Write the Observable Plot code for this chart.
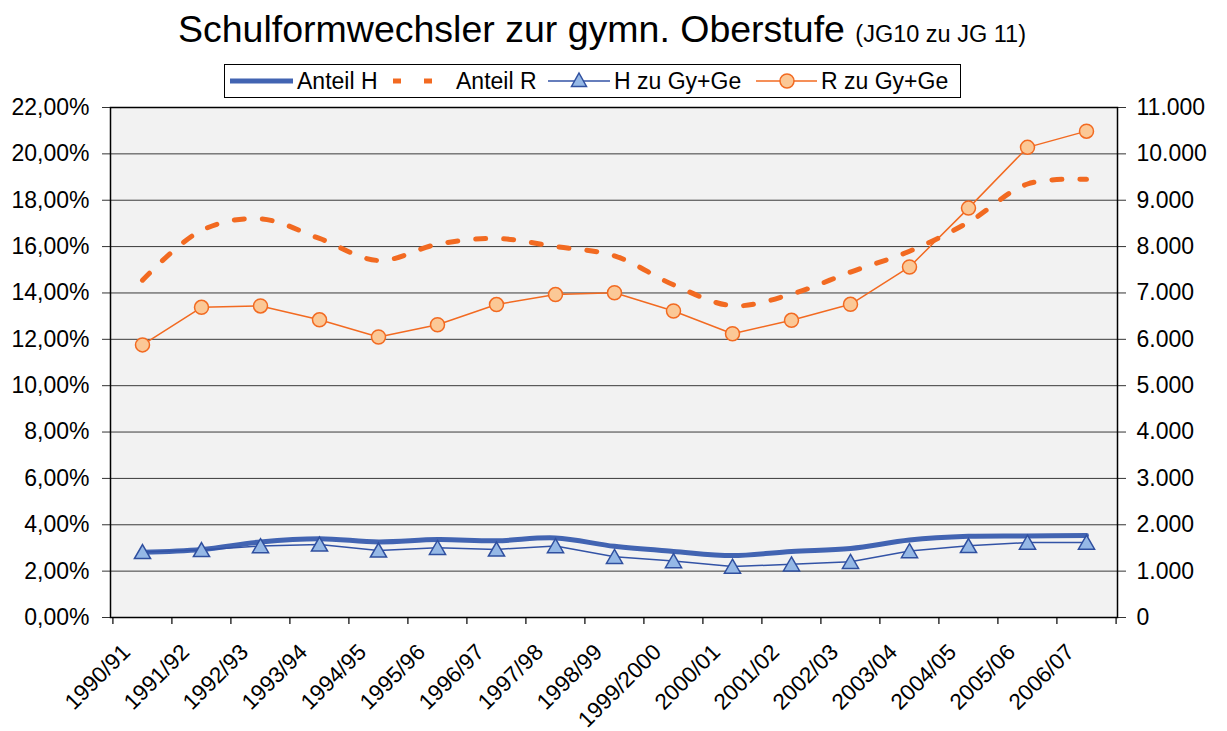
<!DOCTYPE html>
<html>
<head>
<meta charset="utf-8">
<script src="https://cdn.jsdelivr.net/npm/d3@7"></script>
<script src="https://cdn.jsdelivr.net/npm/@observablehq/plot@0.6"></script>
<style>
  html, body { margin: 0; padding: 0; background: #fff; }
  #wrap { position: relative; width: 1227px; height: 731px; font-family: "Liberation Sans", Arial, sans-serif; }
  #head { position: absolute; left: 0; top: 0; }
  #chart { position: absolute; left: 0; top: 100px; }
</style>
</head>
<body>
<div id="wrap">
  <svg id="head" width="1227" height="100" font-family="Liberation Sans, Arial, sans-serif">
    <text x="178" y="42" font-size="37.5" fill="#000">Schulformwechsler zur gymn. Oberstufe <tspan font-size="23.5">(JG10 zu JG 11)</tspan></text>
    <rect x="224.5" y="64.5" width="736" height="33" fill="#fff" stroke="#000" stroke-width="1"></rect>
    <line x1="230" x2="293" y1="81" y2="81" stroke="#4264B2" stroke-width="5"></line>
    <text x="297" y="89" font-size="23">Anteil H</text>
    <line x1="393" x2="401" y1="81" y2="81" stroke="#F26A21" stroke-width="5"></line>
    <line x1="424" x2="432" y1="81" y2="81" stroke="#F26A21" stroke-width="5"></line>
    <text x="456" y="89" font-size="23">Anteil R</text>
    <line x1="548" x2="610" y1="81" y2="81" stroke="#3353A6" stroke-width="1.5"></line>
    <path d="M579,73 L586.5,86.5 L571.5,86.5 Z" fill="#95B8E6" stroke="#2F4F9F" stroke-width="1.5"></path>
    <text x="614" y="89" font-size="23">H zu Gy+Ge</text>
    <line x1="756" x2="817" y1="81" y2="81" stroke="#F26A21" stroke-width="1.5"></line>
    <circle cx="787" cy="81" r="7" fill="#FBC896" stroke="#F26A21" stroke-width="1.5"></circle>
    <text x="821" y="89" font-size="23">R zu Gy+Ge</text>
  </svg>
  <div id="chart"></div>
</div>
<script>
// ---- data ----
const categories = ["1990/91","1991/92","1992/93","1993/94","1994/95","1995/96","1996/97","1997/98","1998/99","1999/2000","2000/01","2001/02","2002/03","2003/04","2004/05","2005/06","2006/07"];
// left axis, percent
const anteilH = [2.81, 2.93, 3.26, 3.40, 3.26, 3.36, 3.31, 3.43, 3.07, 2.85, 2.67, 2.85, 2.98, 3.34, 3.50, 3.52, 3.54];
const anteilR = [14.55, 16.7, 17.2, 16.35, 15.4, 16.1, 16.35, 16.0, 15.6, 14.35, 13.45, 13.95, 14.9, 15.8, 17.05, 18.7, 18.9];
// right axis, counts
const hZuGyGe = [1415, 1458, 1542, 1577, 1447, 1505, 1469, 1542, 1311, 1218, 1099, 1149, 1203, 1434, 1545, 1618, 1618];
const rZuGyGe = [5880, 6690, 6720, 6420, 6050, 6315, 6750, 6965, 7005, 6610, 6120, 6410, 6755, 7560, 8830, 10140, 10490];
const leftTicks = [0, 2, 4, 6, 8, 10, 12, 14, 16, 18, 20, 22];
const rightTicks = [0, 1000, 2000, 3000, 4000, 5000, 6000, 7000, 8000, 9000, 10000, 11000];

// ---- build ----
const leftMax = 22, rightMax = 11000;
const toLeft = v => v * leftMax / rightMax;
const rows = categories.map((c, i) => ({cat: c, aH: anteilH[i], aR: anteilR[i], hG: toLeft(hZuGyGe[i]), rG: toLeft(rZuGyGe[i])}));

const W = 1227, H = 631, mL = 110, mR = 110, mT = 7, mB = 114;
const step = (W - mL - mR) / categories.length;
const fmtPct = d => d.toFixed(2).replace(".", ",") + "%";
const fmtCount = d => d3.format(",")(d).replace(/,/g, ".");

const chart = Plot.plot({
  width: W, height: H,
  marginLeft: mL, marginRight: mR, marginTop: mT, marginBottom: mB,
  style: {fontFamily: "Liberation Sans, Arial, sans-serif", fontSize: "23px", color: "#000", background: "transparent", overflow: "visible"},
  x: {type: "point", domain: categories, padding: 0.5, axis: null},
  y: {domain: [0, leftMax], axis: null},
  marks: [
    Plot.frame({fill: "#F2F2F2", stroke: null}),
    Plot.ruleY(leftTicks, {y: d => d, stroke: "#3a3a3a", strokeWidth: 1}),
    Plot.axisY({anchor: "left", ticks: leftTicks, tickFormat: fmtPct, tickSize: 8, tickPadding: 13, fontSize: 23, label: null, stroke: "#333"}),
    Plot.axisY({anchor: "right", ticks: rightTicks.map(toLeft), tickFormat: d => fmtCount(Math.round(d * rightMax / leftMax)), tickSize: 8, tickPadding: 11, fontSize: 23, label: null, stroke: "#333"}),
    Plot.ruleX(categories, {x: d => d, y1: 0, y2: 0, insetBottom: -7, dx: -step / 2, stroke: "#333", strokeWidth: 1.5}),
    Plot.ruleX([categories[categories.length - 1]], {x: d => d, y1: 0, y2: 0, insetBottom: -7, dx: step / 2, stroke: "#333", strokeWidth: 1.5}),
    Plot.frame({stroke: "#000", strokeWidth: 1.5, fill: null}),
    Plot.text(categories, {x: d => d, y: 0, text: d => d, rotate: -45, textAnchor: "end", lineAnchor: "bottom", dx: -11, dy: 36, fontSize: 22.5, fill: "#000"}),
    Plot.line(rows, {x: "cat", y: "aH", stroke: "#4264B2", strokeWidth: 5, curve: "catmull-rom"}),
    Plot.line(rows, {x: "cat", y: "aR", stroke: "#F26A21", strokeWidth: 5, strokeDasharray: "10,18", curve: "catmull-rom"}),
    Plot.line(rows, {x: "cat", y: "hG", stroke: "#3353A6", strokeWidth: 1.5}),
    Plot.line(rows, {x: "cat", y: "rG", stroke: "#F26A21", strokeWidth: 1.5}),
    Plot.dot(rows, {x: "cat", y: "hG", symbol: "triangle", r: 6, dy: 2, fill: "#95B8E6", stroke: "#2F4F9F", strokeWidth: 1.5}),
    Plot.dot(rows, {x: "cat", y: "rG", symbol: "circle", r: 7, fill: "#FBC896", stroke: "#F26A21", strokeWidth: 1.5})
  ]
});
document.getElementById("chart").appendChild(chart);
</script>
</body>
</html>
